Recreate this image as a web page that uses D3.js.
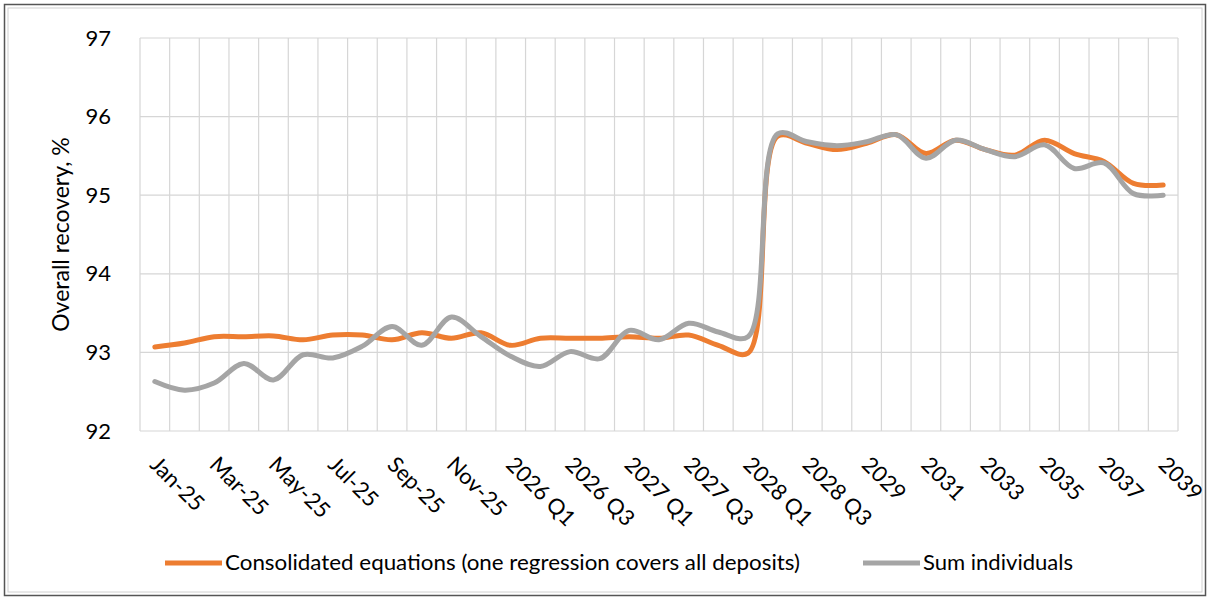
<!DOCTYPE html>
<html lang="en">
 <head>
 <meta http-equiv="Content-Type" content="text/html; charset=UTF-8">
        <title>Overall recovery</title>
        <script type="text/javascript" src="https://d3js.org/d3.v7.min.js"></script>
        <style>
          body { margin: 0; background: #fff; }
          text { font-family: Lato, "Liberation Sans", sans-serif; fill: #000; }
        </style>
 </head>
 <body>
        <script type="text/javascript">

          // categories on the x axis (every second one is labelled)
          var categories = ["Jan-25","Feb-25","Mar-25","Apr-25","May-25","Jun-25","Jul-25","Aug-25",
                            "Sep-25","Oct-25","Nov-25","Dec-25",
                            "2026 Q1","2026 Q2","2026 Q3","2026 Q4",
                            "2027 Q1","2027 Q2","2027 Q3","2027 Q4",
                            "2028 Q1","2028 Q2","2028 Q3","2028 Q4",
                            "2029","2030","2031","2032","2033","2034","2035","2036","2037","2038","2039"];

          var consolidated = [93.07, 93.12, 93.20, 93.20, 93.21, 93.16, 93.22, 93.22, 93.16, 93.25,
                              93.18, 93.25, 93.09, 93.18, 93.18, 93.18, 93.20, 93.18, 93.22, 93.09,
                              92.99, 95.75, 95.66, 95.58, 95.66, 95.77, 95.53, 95.70, 95.58, 95.51,
                              95.70, 95.53, 95.43, 95.15, 95.13];

          var sumIndividuals = [92.63, 92.52, 92.61, 92.86, 92.65, 92.97, 92.93, 93.08, 93.33, 93.09,
                                93.45, 93.20, 92.95, 92.82, 93.01, 92.92, 93.28, 93.16, 93.37, 93.26,
                                93.20, 95.78, 95.68, 95.63, 95.68, 95.77, 95.47, 95.70, 95.58, 95.49,
                                95.64, 95.34, 95.41, 95.02, 95.00];

          var yTicks = [92, 93, 94, 95, 96, 97];

          var seriesNames = ["Consolidated equations (one regression covers all deposits)", "Sum individuals"];
          var seriesColors = ["#ED7D31", "#A5A5A5"];

          var width = 1210, height = 599;
          var plotLeft = 140, plotRight = 1178, plotTop = 38, plotBottom = 431;

          var svg = d3.select("body").append("svg")
                      .attr("width", width)
                      .attr("height", height);

          // chart frame
          svg.append("rect").attr("x", 4.5).attr("y", 4.5).attr("width", 1201).attr("height", 591)
             .attr("fill", "none").attr("stroke", "#555").attr("stroke-width", 1.5);
          svg.append("rect").attr("x", 8).attr("y", 8).attr("width", 1194).attr("height", 584)
             .attr("fill", "none").attr("stroke", "#d0d0d0").attr("stroke-width", 1);

          var x = d3.scaleBand().domain(categories).range([plotLeft, plotRight]);
          var y = d3.scaleLinear().domain([92, 97]).range([plotBottom, plotTop]);

          // gridlines
          var grid = svg.append("g").attr("stroke", "#d6d6d6").attr("stroke-width", 1.2);
          grid.selectAll("line.h").data(yTicks).enter().append("line")
              .attr("x1", plotLeft).attr("x2", plotRight)
              .attr("y1", d => y(d)).attr("y2", d => y(d));
          var edges = categories.map(c => x(c)).concat([plotRight]);
          grid.selectAll("line.v").data(edges).enter().append("line")
              .attr("x1", d => d).attr("x2", d => d)
              .attr("y1", plotTop).attr("y2", plotBottom);

          // y axis labels
          var yAxis = d3.axisLeft(y).tickValues(yTicks).tickFormat(d3.format("d")).tickSize(0).tickPadding(29);
          var gy = svg.append("g").attr("transform", "translate(" + plotLeft + ",0)").call(yAxis);
          gy.select(".domain").remove();
          gy.selectAll("text").style("font-size", "22px").style("font-family", "Lato, sans-serif").attr("fill", "#000");

          // x axis labels, rotated
          var xLabels = categories.filter((c, i) => i % 2 == 0);
          svg.append("g").selectAll("text").data(xLabels).enter().append("text")
             .attr("transform", d => "translate(" + (x(d) + x.bandwidth()/2 - 6) + ",466) rotate(45)")
             .style("font-size", "22px")
             .text(d => d);

          // y title
          svg.append("text")
             .attr("transform", "translate(69," + ((plotTop + plotBottom)/2) + ") rotate(-90)")
             .attr("text-anchor", "middle")
             .style("font-size", "23px")
             .text("Overall recovery, %");

          // lines
          var line = d3.line()
                       .x((d, i) => x(categories[i]) + x.bandwidth()/2)
                       .y(d => y(d))
                       .curve(d3.curveCatmullRom.alpha(0.5));

          [consolidated, sumIndividuals].forEach(function(s, k) {
            svg.append("path").datum(s)
               .attr("d", line)
               .attr("fill", "none")
               .attr("stroke", seriesColors[k])
               .attr("stroke-width", 5)
               .attr("stroke-linejoin", "round")
               .attr("stroke-linecap", "round");
          });

          // legend
          var legendX = [165, 863];
          var legendW = [575, 150];
          var leg = svg.append("g");
          seriesNames.forEach(function(n, k) {
            leg.append("line")
               .attr("x1", legendX[k]).attr("x2", legendX[k] + 57)
               .attr("y1", 563).attr("y2", 563)
               .attr("stroke", seriesColors[k]).attr("stroke-width", 5);
            leg.append("text")
               .attr("x", legendX[k] + 60).attr("y", 563).attr("dy", "0.35em")
               .style("font-size", "21px")
               .attr("textLength", legendW[k]).attr("lengthAdjust", "spacingAndGlyphs")
               .text(n);
          });

        </script>
    </body>
</html>
